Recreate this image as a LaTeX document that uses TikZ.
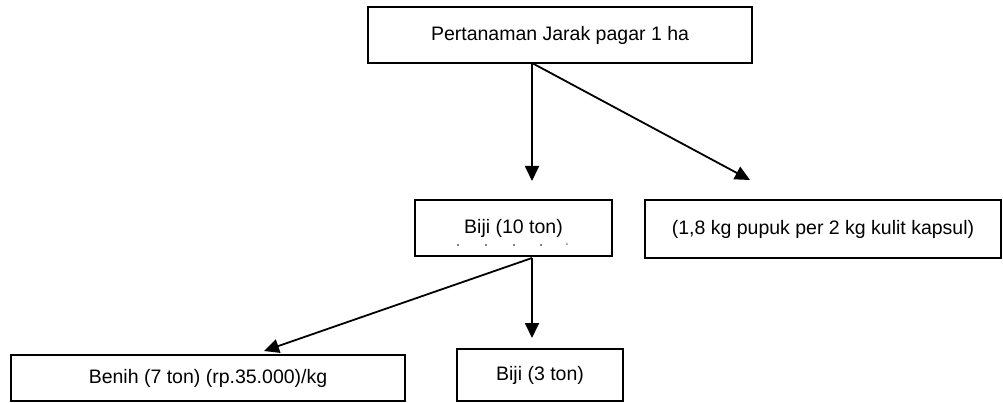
\documentclass[tikz,border=0pt]{standalone}
\usepackage{fontspec}
\setmainfont{Liberation Sans}
\usetikzlibrary{arrows.meta}

\begin{document}
\begin{tikzpicture}[x=1pt, y=-1pt, >={Triangle[length=15pt, width=14pt]}, line width=1.8pt,
     box/.style={draw, rectangle, inner sep=0pt, font=\fontsize{19.5}{23}\selectfont}]
     \useasboundingbox (0,0) rectangle (1003,403);

     \node[box, minimum width=384pt, minimum height=56pt] (tanam)  at (560,35)    {Pertanaman Jarak pagar 1 ha};
     \node[box, minimum width=197pt, minimum height=56pt] (biji)   at (513.5,228) {\raisebox{4pt}{Biji (10 ton)}};
     \node[box, minimum width=356pt, minimum height=58pt] (pupuk)  at (823,229)   {(1,8 kg pupuk per 2 kg kulit kapsul)};
     \node[box, minimum width=394pt, minimum height=46pt] (benih)  at (208,378)   {Benih (7 ton) (rp.35.000)/kg};
     \node[box, minimum width=166pt, minimum height=52pt] (sisa)   at (540,375)   {Biji (3 ton)};

     % stray marks under Biji (10 ton)
     \foreach \x in {458,486,514,541} \fill (\x,245) circle (0.9pt);
     \node[inner sep=0pt, font=\fontsize{9}{9}\selectfont] (tick) at (567,246) {`};

     \coordinate (cabang1) at (532,63);
     \coordinate (ujung1)  at (532,181);
     \coordinate (ujung2)  at (750,180);
     \coordinate (cabang2) at (532,258);
     \coordinate (ujung3)  at (532,338);
     \coordinate (ujung4)  at (264,351);

     \draw[->] (cabang1) -- (ujung1);
     \draw[->] (cabang1) -- (ujung2);
     \draw[->] (cabang2) -- (ujung3);
     \draw[->] (cabang2) -- (ujung4);
\end{tikzpicture}
\end{document}
